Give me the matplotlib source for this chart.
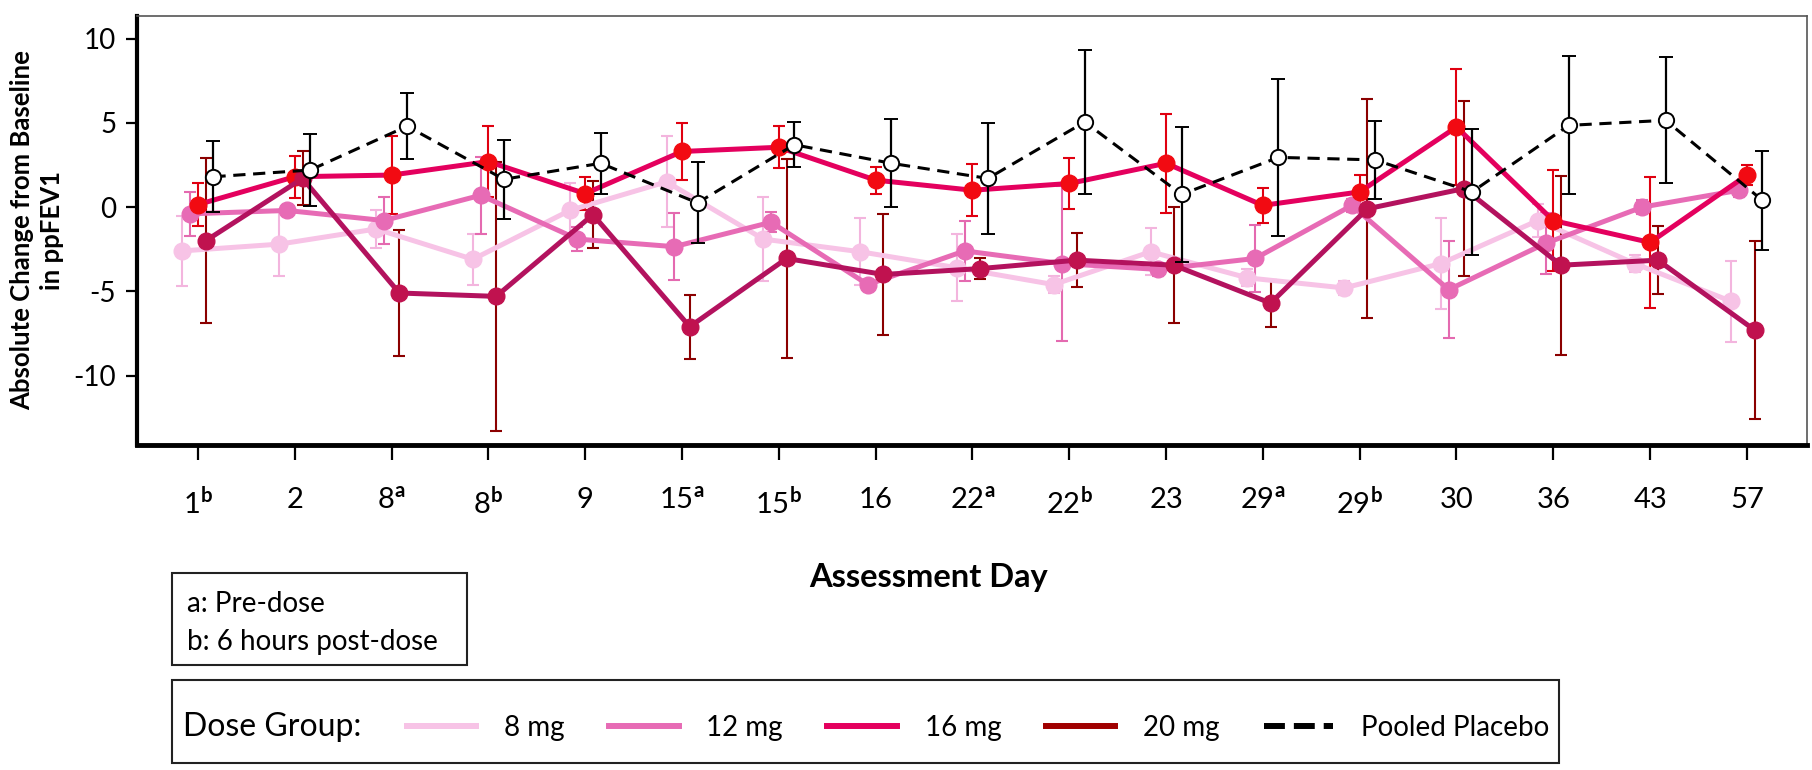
import numpy as np
import matplotlib
matplotlib.use('Agg')
import matplotlib.pyplot as plt
from matplotlib.lines import Line2D
from matplotlib.patches import Rectangle

plt.rcParams['font.family'] = 'Lato'
plt.rcParams['mathtext.fontset'] = 'custom'
plt.rcParams['mathtext.rm'] = 'Lato'
plt.rcParams['mathtext.bf'] = 'Lato:bold'
plt.rcParams['axes.unicode_minus'] = False

# assessment days (a = pre-dose, b = 6 h post-dose)
day_labels = ['1$^{\\mathbf{b}}$', '2', '8$^{\\mathbf{a}}$', '8$^{\\mathbf{b}}$', '9',
              '15$^{\\mathbf{a}}$', '15$^{\\mathbf{b}}$', '16', '22$^{\\mathbf{a}}$',
              '22$^{\\mathbf{b}}$', '23', '29$^{\\mathbf{a}}$', '29$^{\\mathbf{b}}$',
              '30', '36', '43', '57']

mean_8 = [-2.6, -2.2, -1.3, -3.1, -0.2, 1.5, -1.9, -2.65, -3.6, -4.6, -2.65, -4.2, -4.8, -3.35, -0.8, -3.35, -5.6]
err_8 = [2.1, 1.9, 1.1, 1.5, 1.6, 2.7, 2.5, 2.0, 2.0, 0.5, 1.4, 0.5, 0.4, 2.7, 1.0, 0.5, 2.4]

mean_12 = [-0.4, -0.2, -0.8, 0.7, -1.9, -2.35, -0.9, -4.6, -2.6, -3.35, -3.7, -3.05, 0.1, -4.9, -2.15, 0.0, 1.0]
err_12 = [1.3, 0.3, 1.4, 2.3, 0.7, 2.0, 0.6, 0.3, 1.8, 4.6, 0.4, 2.0, 0.4, 2.9, 1.8, 0.4, 0.4]

mean_16 = [0.15, 1.8, 1.9, 2.7, 0.8, 3.3, 3.55, 1.6, 1.0, 1.4, 2.6, 0.1, 0.9, 4.75, -0.8, -2.1, 1.9]
err_16 = [1.3, 1.25, 2.3, 2.1, 1.0, 1.7, 1.25, 0.8, 1.55, 1.5, 2.95, 1.05, 1.0, 3.45, 3.0, 3.9, 0.6]

mean_20 = [-2.0, 1.7, -5.1, -5.3, -0.45, -7.1, -3.05, -4.0, -3.65, -3.15, -3.45, -5.7, -0.1, 1.1, -3.45, -3.15, -7.3]
err_20 = [4.9, 1.6, 3.75, 8.0, 2.0, 1.9, 5.9, 3.6, 0.6, 1.6, 3.45, 1.4, 6.5, 5.2, 5.3, 2.0, 5.3]

mean_pl = [1.8, 2.2, 4.8, 1.65, 2.6, 0.25, 3.7, 2.6, 1.7, 5.05, 0.75, 2.95, 2.8, 0.9, 4.85, 5.15, 0.4]
err_pl = [2.1, 2.15, 1.95, 2.35, 1.8, 2.4, 1.35, 2.6, 3.3, 4.3, 4.0, 4.65, 2.3, 3.75, 4.1, 3.75, 2.95]

group_names = ['8 mg', '12 mg', '16 mg', '20 mg', 'Pooled Placebo']

fig = plt.figure(figsize=(18.12, 7.7), dpi=100)
ax = fig.add_axes([0.0756, 0.4221, 0.9216, 0.5571])

x = np.arange(len(day_labels))

# dose groups: (means, errors, line colour, marker colour, errbar colour, dodge)
groups = [
    (mean_8, err_8, '#f7c3e6', '#f7c3e6', '#f3b5de', -0.16),
    (mean_12, err_12, '#e76bb5', '#e76bb5', '#e46ab0', -0.08),
    (mean_16, err_16, '#e4005e', '#f20a12', '#e00010', 0.0),
    (mean_20, err_20, '#b3125e', '#c0124f', '#8b0000', 0.08),
]
for m, e, lc, mc, ec, off in groups:
    ax.errorbar(x + off, m, yerr=e, color=lc, ecolor=ec, lw=3.6, marker='o', ms=12,
                mfc=mc, mec=mc, elinewidth=1.5, capsize=4, capthick=1.5)

ax.errorbar(x + 0.16, mean_pl, yerr=err_pl, color='black', ls=(0, (4, 2.5)), lw=2.2,
            marker='o', ms=11, mfc='white', mec='black', mew=1.4, ecolor='black',
            elinewidth=1.6, capsize=5, capthick=1.6, zorder=5)

ax.set_xlim(-0.63, 16.62)
ax.set_ylim(-14.12, 11.34)
ax.set_yticks([-10, -5, 0, 5, 10])
ax.set_xticks(x)
ax.set_xticklabels(day_labels)
ax.tick_params(axis='x', length=11, width=1.6, pad=19, labelsize=21)
ax.tick_params(axis='y', length=8, width=1.6, pad=7, labelsize=20)

ax.spines['left'].set_linewidth(3)
ax.spines['bottom'].set_linewidth(3.5)
for s in ['top', 'right']:
    ax.spines[s].set_linewidth(1.2)
    ax.spines[s].set_color('#555555')

ax.set_ylabel('Absolute Change from Baseline\nin ppFEV1', fontsize=18.5, fontweight='bold',
              linespacing=1.25)
ax.yaxis.set_label_coords(-0.044, 0.5)
ax.set_xlabel('Assessment Day', fontsize=23.5, fontweight='bold')
ax.xaxis.set_label_coords(0.474, -0.308)
ax.xaxis.label.set_va('center')

# footnote box
fig.add_artist(Rectangle((172 / 1812, 1 - 665 / 770), 295 / 1812, 92 / 770, fill=False,
                         lw=1.5, ec='#222222', transform=fig.transFigure))
fig.text(187 / 1812, 1 - 604 / 770, 'a: Pre-dose', fontsize=20, va='center')
fig.text(187 / 1812, 1 - 642 / 770, 'b: 6 hours post-dose', fontsize=20, va='center')

# legend box
fig.add_artist(Rectangle((172 / 1812, 1 - 763 / 770), 1387 / 1812, 83 / 770, fill=False,
                         lw=1.5, ec='#222222', transform=fig.transFigure))
fig.text(183 / 1812, 1 - 727 / 770, 'Dose Group:', fontsize=23, va='center')

handles = [
    Line2D([], [], color='#f7c3e6', lw=4.3),
    Line2D([], [], color='#e76bb5', lw=4.3),
    Line2D([], [], color='#e4005e', lw=4.3),
    Line2D([], [], color='#a00000', lw=4.3),
    Line2D([], [], color='black', lw=4.3, ls=(0, (3.5, 1.5))),
]
fig.legend(handles, group_names, loc='center left', bbox_to_anchor=(407 / 1812, 1 - 728 / 770),
           ncol=5, frameon=False, fontsize=20, handlelength=2.5, handletextpad=1.0,
           columnspacing=1.6, borderpad=0, borderaxespad=0)

fig.savefig('out.png', dpi=100)
